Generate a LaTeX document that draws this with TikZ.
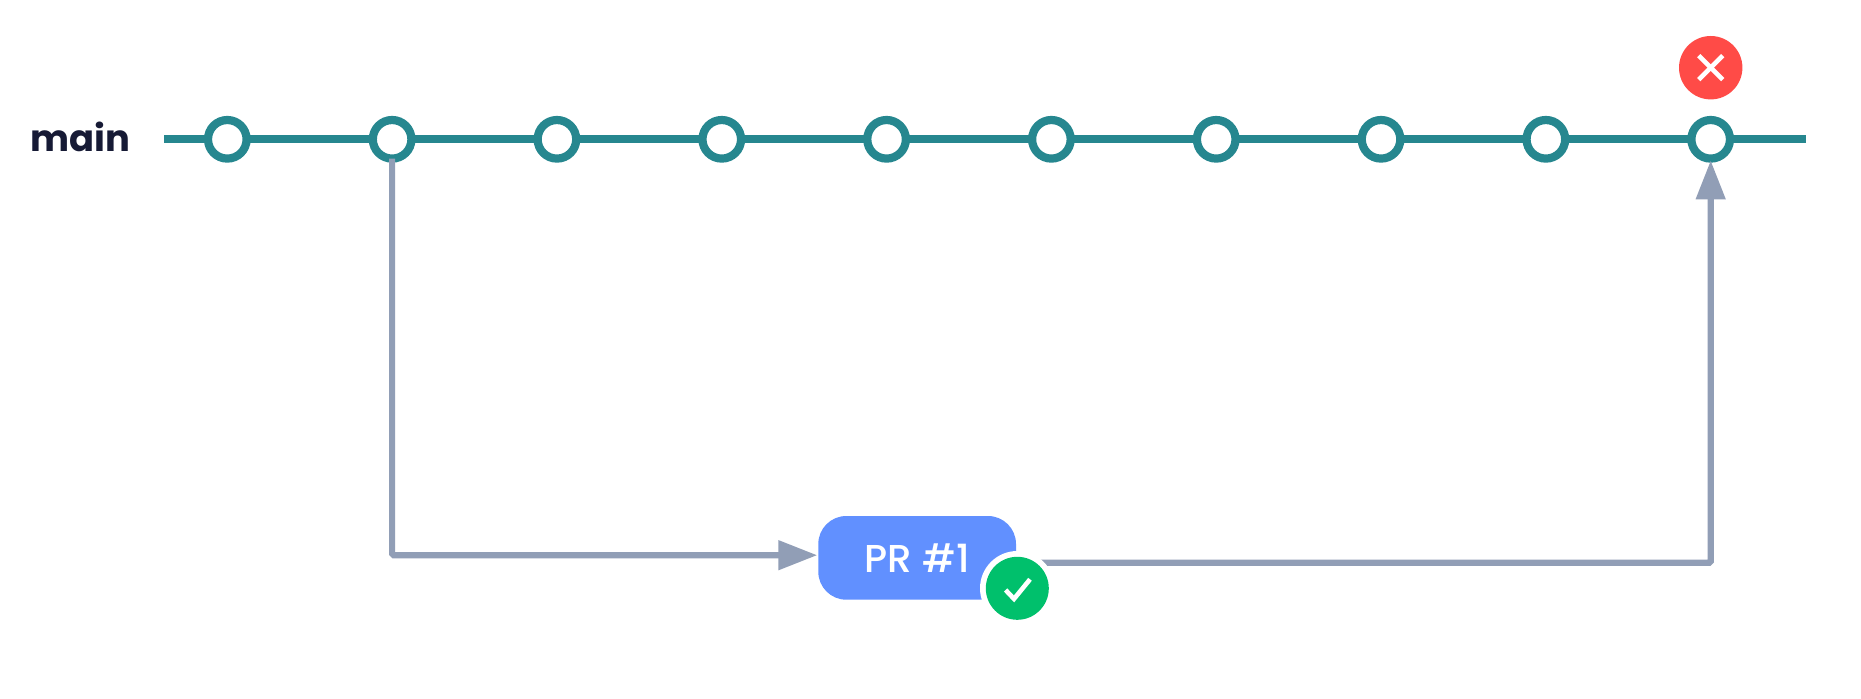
\documentclass[tikz,border=0pt]{standalone}
\usepackage{fontspec}
\setmainfont{Poppins}
\newfontfamily\prfont{Poppins Medium}
\usetikzlibrary{arrows.meta}
\definecolor{teal1}{HTML}{26878F}
\definecolor{gray1}{HTML}{919EB6}
\definecolor{blue1}{HTML}{6190FF}
\definecolor{green1}{HTML}{00C06C}
\definecolor{red1}{HTML}{FF4B47}
\definecolor{ink}{HTML}{161A35}
\tikzset{
  commit/.style={circle,draw=teal1,fill=white,line width=8.2bp,minimum size=38.6bp,inner sep=0pt,outer sep=0pt},
  mainline/.style={draw=teal1,line width=8bp},
  conn/.style={draw=gray1,line width=6.2bp,rounded corners=1.5bp,-{Triangle[width=28.5bp,length=39bp]}},
  badge/.style={circle,minimum size=63bp,inner sep=0pt,outer sep=0pt},
  glyph/.style={draw=white,line width=4.6bp},
}
\begin{document}
\begin{tikzpicture}[x=1bp,y=-1bp]
\useasboundingbox (0,0) rectangle (1861,699);
\fill[white] (0,0) rectangle (1861,699);
\node[anchor=base west,inner sep=0pt,text=ink,font=\bfseries\fontsize{37}{37}\selectfont] (label) at (30.5,151.5) {main};
\coordinate (mainstart) at (164,139.3);
\coordinate (mainend) at (1805.7,139.3);
\draw[mainline] (mainstart) -- (mainend);
\foreach \i [evaluate=\i as \xx using {227.3+164.82*(\i-1)}] in {1,...,10}
  \node[commit] (c\i) at (\xx,139.3) {};
\node[fill=blue1,rounded corners=28bp,minimum width=197.7bp,minimum height=83.7bp,inner sep=0pt,outer sep=0pt,text=white,font=\prfont\fontsize{39}{39}\selectfont] (pr) at (917.15,557.85) {PR \#1};
\coordinate (prin) at (818.3,555.2);
\coordinate (prout) at (1016,562.7);
\draw[conn,shorten >=1bp] (c2.south) |- (prin);
\draw[conn,shorten >=1.8bp] (prout) -| (c10.south);
\node[circle,fill=white,minimum size=74.6bp,inner sep=0pt,outer sep=0pt] (okring) at (1017.3,588.3) {};
\node[badge,fill=green1] (ok) at (1017.3,588.3) {};
\draw[glyph] ([shift={(-11.7,1.7)}]ok.center) -- ([shift={(-3.3,10.6)}]ok.center) -- ([shift={(12.7,-9)}]ok.center);
\node[badge,fill=red1,minimum size=63.4bp] (fail) at (1710.7,67.7) {};
\draw[glyph] ([shift={(-12,-12)}]fail.center) -- ([shift={(12,12)}]fail.center);
\draw[glyph] ([shift={(-12,12)}]fail.center) -- ([shift={(12,-12)}]fail.center);
\end{tikzpicture}
\end{document}
